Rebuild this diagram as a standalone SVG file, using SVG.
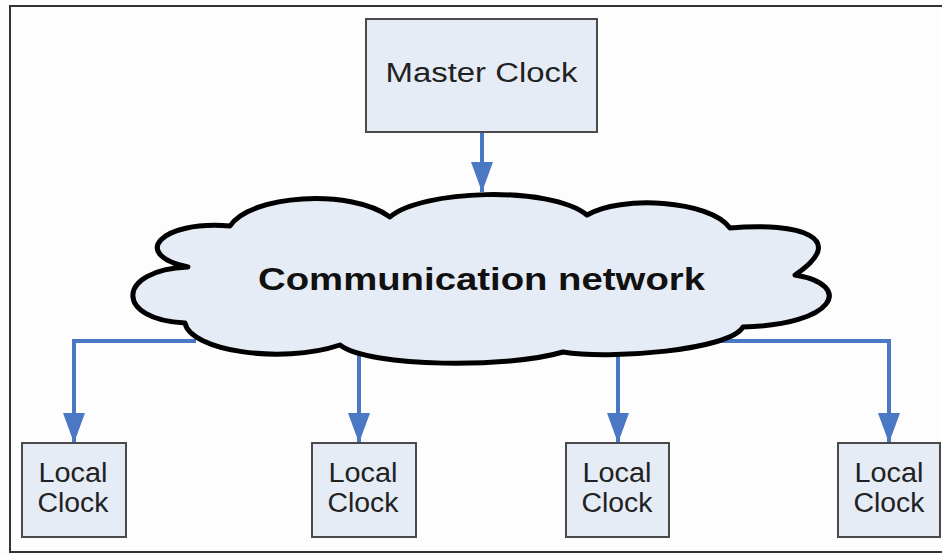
<svg xmlns="http://www.w3.org/2000/svg" width="942" height="554" viewBox="0 0 942 554">
<defs>
<style>
.box{fill:#e6ecf6;stroke:#4a4a4a;stroke-width:2}
.lbl{font-family:"Liberation Sans",Arial,sans-serif;font-size:27px;fill:#222;text-anchor:middle}
.cloud{fill:#e6ecf6;stroke:#000;stroke-width:5;stroke-linejoin:round}
.conn{fill:none;stroke:#4a78c4;stroke-width:4}
</style>
<marker id="ah" viewBox="0 0 30 22" refX="30" refY="11" markerWidth="30" markerHeight="22" markerUnits="userSpaceOnUse" orient="auto">
<path d="M0 0 L30 11 L0 22 Z" fill="#4a78c4"/>
</marker>
</defs>
<rect x="0" y="0" width="942" height="554" fill="#fdfdfd"/>
<rect x="10" y="6" width="940" height="546" fill="none" stroke="#333" stroke-width="2"/>
<g id="connectors">
<path class="conn" d="M482 132 L482 192" marker-end="url(#ah)"/>
<path class="conn" d="M196 341 L74 341 L74 443" marker-end="url(#ah)"/>
<path class="conn" d="M359 350 L359 443" marker-end="url(#ah)"/>
<path class="conn" d="M618 356 L618 443" marker-end="url(#ah)"/>
<path class="conn" d="M716 341 L889 341 L889 443" marker-end="url(#ah)"/>
</g>
<g id="master">
<rect class="box" x="366" y="19" width="231" height="113"/>
<text class="lbl" x="481.5" y="82" font-size="28" textLength="192" lengthAdjust="spacingAndGlyphs">Master Clock</text>
</g>
<g id="network">
<path class="cloud" d="M230 226 C250 195 350 188 390 217 C420 190 550 185 587 215 C620 195 710 200 730 228 C800 222 850 238 795 275 C855 285 835 325 743 327 C730 350 610 360 563 352 C510 368 370 368 340 345 C280 365 190 350 185 323 C115 320 115 270 188 267 C130 255 160 220 230 226 Z"/>
<text x="481.5" y="290" font-family="'Liberation Sans',Arial,sans-serif" font-weight="bold" font-size="32" fill="#111" text-anchor="middle" textLength="447" lengthAdjust="spacingAndGlyphs">Communication network</text>
</g>
<g id="local1">
<rect class="box" x="22" y="443" width="104" height="94"/>
<text class="lbl" x="73" y="482" textLength="69" lengthAdjust="spacingAndGlyphs">Local</text>
<text class="lbl" x="73" y="512" textLength="71" lengthAdjust="spacingAndGlyphs">Clock</text>
</g>
<g id="local2">
<rect class="box" x="312" y="443" width="104" height="94"/>
<text class="lbl" x="363" y="482" textLength="69" lengthAdjust="spacingAndGlyphs">Local</text>
<text class="lbl" x="363" y="512" textLength="71" lengthAdjust="spacingAndGlyphs">Clock</text>
</g>
<g id="local3">
<rect class="box" x="566" y="443" width="103" height="94"/>
<text class="lbl" x="617" y="482" textLength="69" lengthAdjust="spacingAndGlyphs">Local</text>
<text class="lbl" x="617" y="512" textLength="71" lengthAdjust="spacingAndGlyphs">Clock</text>
</g>
<g id="local4">
<rect class="box" x="838" y="443" width="102" height="94"/>
<text class="lbl" x="889" y="482" textLength="69" lengthAdjust="spacingAndGlyphs">Local</text>
<text class="lbl" x="889" y="512" textLength="71" lengthAdjust="spacingAndGlyphs">Clock</text>
</g>
</svg>
